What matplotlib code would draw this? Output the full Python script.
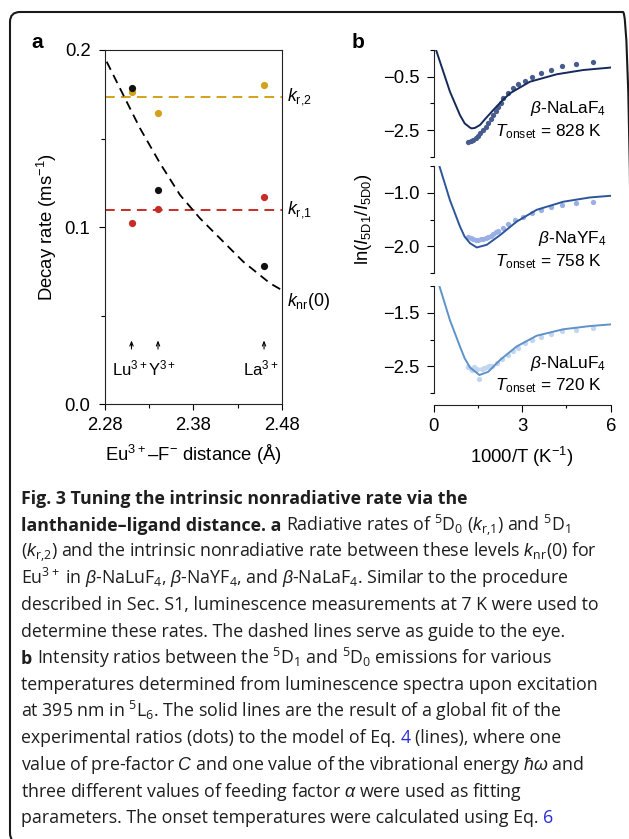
import matplotlib
matplotlib.use("Agg")
import matplotlib.pyplot as plt
from matplotlib.patches import FancyBboxPatch
from matplotlib.transforms import IdentityTransform
from matplotlib.ticker import FixedLocator, FixedFormatter

W, H = 629, 839

# ---------------- panel a : decay rates vs Eu-F distance ----------------
distance = [2.31, 2.34, 2.46]
k_r1 = [0.102, 0.110, 0.117]
k_r2 = [0.1765, 0.1645, 0.180]
k_nr0 = [0.1787, 0.1211, 0.078]
k_r1_guide = 0.1098
k_r2_guide = 0.1736
# black dashed guide to the eye, read point by point
knr_guide_x = [2.2819, 2.3007, 2.3196, 2.3423, 2.3649, 2.3875, 2.4139, 2.4365, 2.4668, 2.48]
knr_guide_y = [0.1934, 0.1746, 0.1558, 0.1360, 0.1181, 0.1049, 0.0917, 0.0804, 0.0682, 0.0644]
ion_labels = [r"L$\mathregular{u^{3+}}$", r"$\mathregular{Y^{3+}}$", r"L$\mathregular{a^{3+}}$"]

# ---------------- panel b : ln(I5D1/I5D0) vs 1000/T ----------------
hosts = [r"$\beta$-NaLa$\mathregular{F_4}$", r"$\beta$-NaY$\mathregular{F_4}$", r"$\beta$-NaLu$\mathregular{F_4}$"]
t_onset = [828, 758, 720]

la_fit_x = [0.08, 0.55, 0.89, 1.05, 1.23, 1.29, 1.40, 1.57, 1.75, 2.02, 2.30, 2.59, 3.26, 4.17, 5.07, 5.98]
la_fit_y = [0.5, -1.06, -1.94, -2.25, -2.41, -2.44, -2.42, -2.31, -2.08, -1.75, -1.42, -1.12, -0.69, -0.41, -0.25, -0.16]
la_dot_x = [1.17, 1.25, 1.33, 1.42, 1.50, 1.58, 1.68, 1.77, 1.85, 1.93, 2.02, 2.10, 2.19, 2.27,
            2.36, 2.53, 2.70, 2.87, 3.09, 3.34, 3.64, 3.97, 4.36, 4.81, 5.39]
la_dot_y = [-2.94, -2.92, -2.88, -2.80, -2.72, -2.62, -2.50, -2.38, -2.25, -2.10, -1.94, -1.78, -1.63, -1.47,
            -1.31, -1.12, -0.94, -0.79, -0.65, -0.52, -0.38, -0.25, -0.10, -0.02, 0.06]

y_fit_x = [0.19, 0.55, 0.89, 1.05, 1.23, 1.46, 1.80, 2.25, 2.81, 3.49, 4.39, 5.30, 5.98]
y_fit_y = [-0.5, -1.14, -1.63, -1.82, -1.94, -2.02, -1.97, -1.79, -1.54, -1.32, -1.17, -1.09, -1.06]
y_dot_x = [1.17, 1.25, 1.34, 1.42, 1.51, 1.59, 1.68, 1.77, 1.85, 1.93, 2.02, 2.10, 2.19,
           2.36, 2.53, 2.76, 3.04, 3.32, 3.63, 3.97, 4.36, 4.81, 5.39]
y_dot_y = [-1.82, -1.85, -1.87, -1.88, -1.88, -1.87, -1.86, -1.84, -1.82, -1.80, -1.77, -1.74, -1.71,
           -1.65, -1.58, -1.51, -1.45, -1.38, -1.32, -1.27, -1.23, -1.20, -1.18]

lu_fit_x = [0.19, 0.55, 0.89, 1.05, 1.23, 1.55, 1.85, 2.25, 2.81, 3.49, 4.39, 5.30, 5.98]
lu_fit_y = [-1.0, -1.64, -2.13, -2.35, -2.52, -2.66, -2.60, -2.38, -2.13, -1.93, -1.81, -1.75, -1.72]
lu_dot_x = [1.17, 1.25, 1.29, 1.38, 1.46, 1.55, 1.63, 1.72, 1.80, 1.89, 1.97, 2.14, 2.32,
            2.53, 2.70, 2.87, 3.09, 3.34, 3.64, 3.97, 4.36, 4.81, 5.39]
lu_dot_y = [-2.52, -2.55, -2.57, -2.52, -2.55, -2.74, -2.54, -2.53, -2.52, -2.50, -2.49, -2.44, -2.36,
            -2.29, -2.22, -2.16, -2.07, -2.00, -1.95, -1.89, -1.85, -1.82, -1.78]

# ---------------- fonts ----------------
plt.rcParams['font.family'] = ['Liberation Sans', 'DejaVu Sans']
plt.rcParams['mathtext.fontset'] = 'custom'
plt.rcParams['mathtext.rm'] = 'Liberation Sans'
plt.rcParams['mathtext.it'] = 'Liberation Sans:italic'
plt.rcParams['mathtext.bf'] = 'Liberation Sans:bold'
plt.rcParams['axes.linewidth'] = 0.8
plt.rcParams['axes.edgecolor'] = '#222222'

cap_font, cap_size = 'Open Sans', 12.8

fig = plt.figure(figsize=(W / 100, H / 100), dpi=100)

# rounded frame, partly cropped at the right and bottom
frame = FancyBboxPatch((10, -4), 623, 831, boxstyle="round,pad=0,rounding_size=10",
                       transform=IdentityTransform(), fill=False, lw=1.5, ec='#1a1a1a')
fig.add_artist(frame)

tick_fs = 13.3   # tick labels and axis titles
note_fs = 12.4   # texts inside panel b
gold = '#d2a21c'
red = '#c62d26'

# ================= panel a =================
ax = fig.add_axes([105 / W, 1 - 404 / H, 176.7 / W, 354 / H])
ax.axhline(k_r2_guide, color=gold, lw=1.4, ls=(0, (5, 3.2)), zorder=1)
ax.axhline(k_r1_guide, color=red, lw=1.4, ls=(0, (5, 3.2)), zorder=1)
ax.plot(knr_guide_x, knr_guide_y, color='k', lw=1.3, ls=(0, (5, 3.2)), zorder=1)
ax.plot(distance, k_r2, 'o', color=gold, ms=5.2, mec='none', zorder=3)
ax.plot(distance, k_r1, 'o', color=red, ms=5.2, mec='none', zorder=3)
ax.plot(distance, k_nr0, 'o', color='#111111', ms=5.2, mec='none', zorder=4)
ax.set_xlim(2.28, 2.48)
ax.set_ylim(0, 0.2)
ax.xaxis.set_major_locator(FixedLocator([2.28, 2.38, 2.48]))
ax.xaxis.set_minor_locator(FixedLocator([2.33, 2.43]))
ax.xaxis.set_major_formatter(FixedFormatter(["2.28", "2.38", "2.48"]))
ax.yaxis.set_major_locator(FixedLocator([0, 0.1, 0.2]))
ax.yaxis.set_minor_locator(FixedLocator([0.05, 0.15]))
ax.yaxis.set_major_formatter(FixedFormatter(["0.0", "0.1", "0.2"]))
ax.tick_params(which='major', direction='out', length=4, width=0.8, labelsize=tick_fs)
ax.tick_params(axis='y', which='major', pad=6.5)
ax.tick_params(axis='x', which='major', pad=5.5)
ax.tick_params(which='minor', direction='out', length=2.8, width=0.8)
ax.set_ylabel(r"Decay rate ($\mathregular{ms^{-1}}$)", fontsize=tick_fs)
ax.yaxis.set_label_coords(-0.261, 0.5)
ax.set_xlabel(r"$\mathregular{Eu^{3+}}$–$\mathregular{F^{-}}$ distance (Å)", fontsize=tick_fs, labelpad=6)

# arrows and ion labels
for d, lab, dx in zip(distance, ion_labels, [-1.0, 3.2, -2.2]):
    ax.annotate("", xy=(d, 0.0375), xytext=(d, 0.0295),
                arrowprops=dict(arrowstyle='->,head_length=0.3,head_width=0.12', lw=0.8, color='k'))
    ax.annotate(lab, xy=(d, 0.0203), xytext=(dx, 0), textcoords='offset points',
                ha='center', va='center', fontsize=12)

ytr = ax.get_yaxis_transform()
ax.text(1.03, k_r2_guide, r"$k_{\rm r{,}2}$", transform=ytr, fontsize=12.8, va='center')
ax.text(1.03, k_r1_guide, r"$k_{\rm r{,}1}$", transform=ytr, fontsize=12.8, va='center')
ax.text(1.03, 0.058, r"$k_{\rm nr}$(0)", transform=ytr, fontsize=12.8, va='center')

fig.text(37 / W, 1 - 42 / H, "a", fontsize=15, fontweight='bold', ha='center', va='center')
fig.text(358 / W, 1 - 43 / H, "b", fontsize=15, fontweight='bold', ha='center', va='center')

# ================= panel b =================
panels = [
    dict(top=50, bot=156.7, fx=la_fit_x, fy=la_fit_y, dx=la_dot_x, dy=la_dot_y,
         lc='#15295a', dc='#485b8d', ylim=(-3.5, 0.5), major=[-0.5, -2.5], minor=[0.5, -1.5, -3.5],
         ty=(0.407, 0.187)),
    dict(top=165.7, bot=273.3, fx=y_fit_x, fy=y_fit_y, dx=y_dot_x, dy=y_dot_y,
         lc='#2b5697', dc='#9aafe4', ylim=(-2.5, -0.5), major=[-1.0, -2.0], minor=[-0.5, -1.5, -2.5],
         ty=(0.279, 0.068)),
    dict(top=285.7, bot=393.3, fx=lu_fit_x, fy=lu_fit_y, dx=lu_dot_x, dy=lu_dot_y,
         lc='#5e92c8', dc='#c3d6f0', ylim=(-3.0, -1.0), major=[-1.5, -2.5], minor=[-1.0, -2.0, -3.0],
         ty=(0.238, 0.031)),
]

b_axes = []
for i, p in enumerate(panels):
    bx = fig.add_axes([433.7 / W, 1 - p['bot'] / H, 177 / W, (p['bot'] - p['top']) / H])
    bx.plot(p['dx'], p['dy'], 'o', color=p['dc'], ms=3.8, mec='none', zorder=2)
    bx.plot(p['fx'], p['fy'], '-', color=p['lc'], lw=1.4, zorder=3)
    bx.set_xlim(0, 6)
    bx.set_ylim(*p['ylim'])
    for s in ['top', 'right']:
        bx.spines[s].set_visible(False)
    bx.yaxis.set_major_locator(FixedLocator(p['major']))
    bx.yaxis.set_minor_locator(FixedLocator(p['minor']))
    bx.yaxis.set_major_formatter(FixedFormatter([f"{v:.1f}".replace('-', '−') for v in p['major']]))
    bx.tick_params(axis='y', which='major', direction='out', length=5, width=0.8, labelsize=tick_fs, pad=5)
    bx.tick_params(axis='y', which='minor', direction='out', length=2.6, width=0.8)
    bx.text(0.977, p['ty'][0], hosts[i], transform=bx.transAxes, ha='right', va='baseline', fontsize=note_fs)
    bx.text(0.949, p['ty'][1], r"$T_{\rm onset}$ = %d K" % t_onset[i], transform=bx.transAxes,
            ha='right', va='baseline', fontsize=note_fs)
    if i < 2:
        bx.spines['bottom'].set_visible(False)
        bx.tick_params(axis='x', which='both', bottom=False, labelbottom=False)
    else:
        bx.spines['bottom'].set_position(('outward', 8.5))
        bx.xaxis.set_major_locator(FixedLocator([0, 3, 6]))
        bx.xaxis.set_minor_locator(FixedLocator([1.5, 4.5]))
        bx.tick_params(axis='x', which='major', direction='out', length=4.8, width=0.8, labelsize=tick_fs, pad=4.5)
        bx.tick_params(axis='x', which='minor', direction='out', length=2.4, width=0.8)
        bx.set_xlabel(r"1000/T ($\mathregular{K^{-1}}$)", fontsize=tick_fs, labelpad=7)
    b_axes.append(bx)

b_axes[1].set_ylabel(r"ln($I_{\rm 5D1}$/$I_{\rm 5D0}$)", fontsize=tick_fs)
b_axes[1].yaxis.set_label_coords(-0.337, 0.505)

# ================= caption =================
renderer = fig.canvas.get_renderer()
blue = '#2b2bd6'
cap_x = 21
gap = cap_size * 0.26 * 100 / 72


def caption_line(y_px, pieces):
    x = cap_x
    for txt, kw in pieces:
        t = fig.text(x / W, 1 - y_px / H, txt, fontsize=cap_size, family=[cap_font, 'DejaVu Sans'],
                     ha='left', va='baseline', color=kw.get('color', '#1e1e1e'),
                     fontweight=kw.get('weight', 'normal'))
        x = t.get_window_extent(renderer).x1 + gap


R = r"$\mathregular{%s}$"
lines = [
    [("Fig. 3 Tuning the intrinsic nonradiative rate via the", dict(weight='bold'))],
    [("lanthanide–ligand distance. a", dict(weight='bold')),
     ("Radiative rates of " + R % "^5D_0" + " ($k$" + R % "_{r{,}1}" + ") and " + R % "^5D_1", {})],
    [("($k$" + R % "_{r{,}2}" + ") and the intrinsic nonradiative rate between these levels $k$"
      + R % "_{nr}" + "(0) for", {})],
    [(R % "Eu^{3+}" + r" in $\beta$-" + R % "NaLuF_4" + r", $\beta$-" + R % "NaYF_4"
      + r", and $\beta$-" + R % "NaLaF_4" + ". Similar to the procedure", {})],
    [("described in Sec. S1, luminescence measurements at 7 K were used to", {})],
    [("determine these rates. The dashed lines serve as guide to the eye.", {})],
    [("b", dict(weight='bold')),
     ("Intensity ratios between the " + R % "^5D_1" + " and " + R % "^5D_0" + " emissions for various", {})],
    [("temperatures determined from luminescence spectra upon excitation", {})],
    [("at 395 nm in " + R % "^5L_6" + ". The solid lines are the result of a global fit of the", {})],
    [("experimental ratios (dots) to the model of Eq.", {}), ("4", dict(color=blue)),
     ("(lines), where one", {})],
    [(r"value of pre-factor $C$ and one value of the vibrational energy $\hbar\omega$ and", {})],
    [(r"three different values of feeding factor $\alpha$ were used as fitting", {})],
    [("parameters. The onset temperatures were calculated using Eq.", {}), ("6", dict(color=blue))],
]

for k, pieces in enumerate(lines):
    caption_line(504 + 26.6 * k, pieces)

fig.savefig("out.png", dpi=100)
